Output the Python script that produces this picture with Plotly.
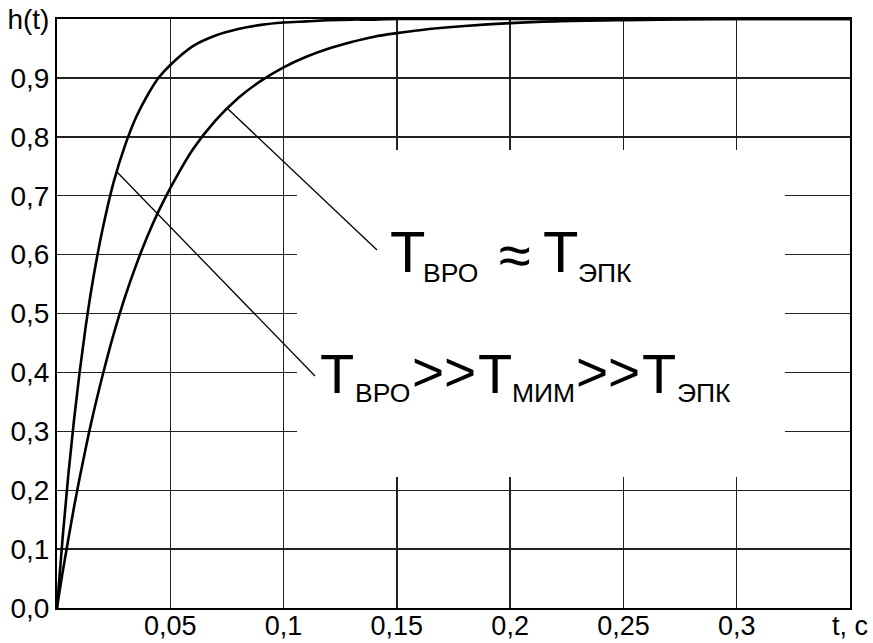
import plotly.graph_objects as go

# ---- data ----
t_values = [0, 0.0025, 0.005, 0.0075, 0.01, 0.0125, 0.015, 0.0175, 0.02, 0.025, 0.03,
            0.035, 0.04, 0.045, 0.05, 0.06, 0.07, 0.08, 0.09, 0.1, 0.11, 0.12, 0.13,
            0.14, 0.15, 0.16, 0.18, 0.2, 0.22, 0.25, 0.3, 0.35]
h_fast = [0, 0.12, 0.226, 0.319, 0.401, 0.473, 0.537, 0.592, 0.641, 0.723, 0.785,
          0.834, 0.871, 0.901, 0.922, 0.954, 0.972, 0.983, 0.990, 0.994, 0.996, 0.998, 0.999,
          0.999, 1.0, 1.0, 1.0, 1.0, 1.0, 1.0, 1.0, 1.0]
h_slow = [0, 0.061, 0.117, 0.171, 0.221, 0.268, 0.313, 0.354, 0.393, 0.465, 0.528,
          0.583, 0.632, 0.675, 0.713, 0.779, 0.828, 0.866, 0.895, 0.918, 0.936, 0.950, 0.961,
          0.970, 0.976, 0.981, 0.988, 0.993, 0.996, 0.998, 1.0, 1.0]

x_tick_vals = [0.05, 0.1, 0.15, 0.2, 0.25, 0.3, 0.35]
x_tick_text = ["0,05", "0,1", "0,15", "0,2", "0,25", "0,3", "t, c"]
y_tick_vals = [0, 0.1, 0.2, 0.3, 0.4, 0.5, 0.6, 0.7, 0.8, 0.9, 1.0]
y_tick_text = ["0,0", "0,1", "0,2", "0,3", "0,4", "0,5", "0,6", "0,7", "0,8", "0,9", "h(t)"]

W, H = 873, 643
L, R, T, B = 57, 850, 19, 608
XMAX, YMAX = 0.35, 1.0

def dx(px):
    return (px - L) / (R - L) * XMAX

def dy(py):
    return (B - py) / (B - T) * YMAX

FONT = "Liberation Sans, Arial, sans-serif"

fig = go.Figure()
fig.add_trace(go.Scatter(x=t_values, y=h_fast, mode="lines",
                         line=dict(color="black", width=2.6, shape="spline"),
                         showlegend=False, hoverinfo="skip"))
fig.add_trace(go.Scatter(x=t_values, y=h_slow, mode="lines",
                         line=dict(color="black", width=2.6, shape="spline"),
                         showlegend=False, hoverinfo="skip"))

shapes = [
    # white box covering the grid behind the labels
    dict(type="rect", xref="x", yref="y", x0=dx(297), x1=dx(785), y0=dy(477), y1=dy(150),
         fillcolor="white", line=dict(width=0), layer="between"),
    # leader lines
    dict(type="line", xref="x", yref="y", x0=dx(117), y0=dy(172), x1=dx(315), y1=dy(376),
         line=dict(color="black", width=1.3), layer="above"),
    dict(type="line", xref="x", yref="y", x0=dx(228), y0=dy(109), x1=dx(377), y1=dy(250),
         line=dict(color="black", width=1.3), layer="above"),
]

pieces = [
    # text, left px, center py, size
    ("T", 389, 251, 58),
    ("ВРО", 422, 272.5, 26.5),
    ("≈", 498, 254, 58),
    ("T", 542, 251, 58),
    ("ЭПК", 577, 272.5, 26.5),
    ("T", 319, 373, 56),
    ("ВРО", 354, 392.5, 26.5),
    (">>", 411, 372, 55),
    ("T", 477, 373, 56),
    ("МИМ", 511, 392.5, 26.5),
    (">>", 575, 372, 55),
    ("T", 641, 373, 56),
    ("ЭПК", 676, 392.5, 26.5),
]
annotations = []
for txt, px, py, sz in pieces:
    annotations.append(dict(text=txt, xref="x", yref="y", x=dx(px), y=dy(py),
                            xanchor="left", yanchor="middle", showarrow=False,
                            font=dict(family=FONT, size=sz, color="black"),
                            borderpad=0))

axis_common = dict(showgrid=True, gridcolor="#222", gridwidth=1.4,
                   showline=True, linecolor="black", linewidth=2, mirror=True,
                   ticks="", zeroline=False, automargin=False)

fig.update_layout(
    width=W, height=H,
    margin=dict(l=L, r=W - R, t=T, b=H - B, pad=0),
    paper_bgcolor="white", plot_bgcolor="white",
    xaxis=dict(range=[0, XMAX], tickvals=x_tick_vals, ticktext=x_tick_text,
               tickfont=dict(family=FONT, size=27, color="black"),
               ticklabelstandoff=-7, **axis_common),
    yaxis=dict(range=[0, YMAX], tickvals=y_tick_vals, ticktext=y_tick_text,
               tickfont=dict(family=FONT, size=28, color="black"), **axis_common),
    shapes=shapes, annotations=annotations, showlegend=False,
)

fig.write_html("out.html", config={"displayModeBar": False, "staticPlot": True},
               post_script="document.body.style.margin='0';document.body.style.overflow='hidden';")
